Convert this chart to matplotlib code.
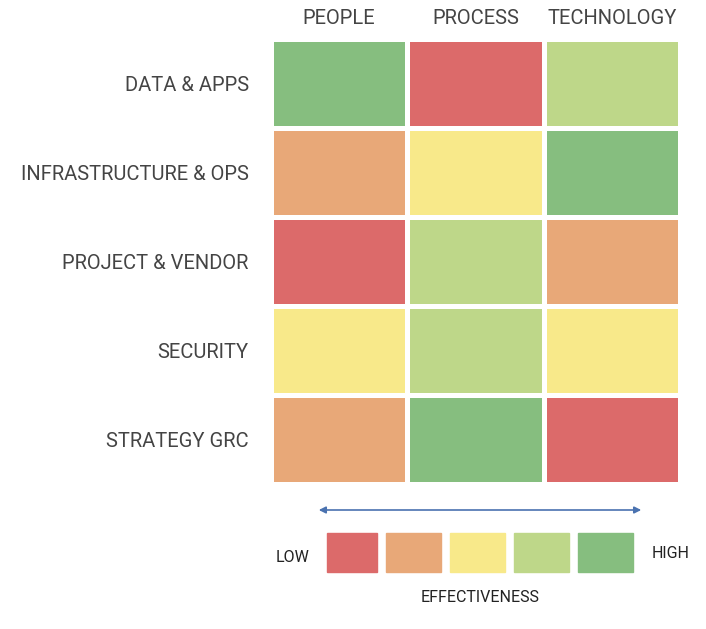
import matplotlib
matplotlib.use("Agg")
import matplotlib.pyplot as plt
from matplotlib.colors import ListedColormap, BoundaryNorm
from matplotlib.patches import FancyArrowPatch
import numpy as np

rows = ["DATA & APPS", "INFRASTRUCTURE & OPS", "PROJECT & VENDOR", "SECURITY", "STRATEGY GRC"]
cols = ["PEOPLE", "PROCESS", "TECHNOLOGY"]
scores = [[5, 1, 4],
          [2, 3, 5],
          [1, 4, 2],
          [3, 4, 3],
          [2, 5, 1]]
levels = [1, 2, 3, 4, 5]
colors = ["#DC6A6A", "#E8A878", "#F8E98A", "#BED789", "#86BE7F"]

cmap = ListedColormap(colors)
norm = BoundaryNorm([0.5, 1.5, 2.5, 3.5, 4.5, 5.5], cmap.N)
W, H = 706, 629
fig = plt.figure(figsize=(W/100, H/100), dpi=100)
tc = "#444444"
fn = "Roboto"

ax = fig.add_axes([271/W, 1-484/H, 409/W, 445/H])
ax.pcolormesh(np.array(scores), cmap=cmap, norm=norm, edgecolors="white", linewidth=3.5)
ax.set_xlim(0, 3); ax.set_ylim(5, 0)
ax.set_xticks(np.arange(3)+0.5)
ax.set_xticklabels(cols, fontsize=14.5, color=tc, family=fn)
ax.xaxis.tick_top()
ax.set_yticks(np.arange(5)+0.5)
ax.set_yticklabels(rows, fontsize=14.5, color=tc, family=fn)
ax.tick_params(length=0, pad=16)
ax.tick_params(axis="x", pad=8)
for s in ax.spines.values():
    s.set_visible(False)

lax = fig.add_axes([0, 0, 1, 1])
lax.set_xlim(0, W); lax.set_ylim(H, 0); lax.axis("off")
xs = [327, 386, 450, 514, 578]
ws = [50, 55, 55, 55, 55]
for x, w, lv in zip(xs, ws, levels):
    lax.add_patch(plt.Rectangle((x, 533), w, 39, color=colors[lv-1]))
lax.add_patch(FancyArrowPatch((316, 510), (644, 510), arrowstyle="<|-|>", mutation_scale=10,
                              color="#4A72B0", lw=1.2))
lax.text(293, 557, "LOW", ha="center", va="center", fontsize=11.5, color="#222222", family=fn)
lax.text(671, 553, "HIGH", ha="center", va="center", fontsize=11.5, color="#222222", family=fn)
lax.text(480, 597, "EFFECTIVENESS", ha="center", va="center", fontsize=11.5, color="#222222", family=fn)

fig.savefig("out.png", dpi=100)
